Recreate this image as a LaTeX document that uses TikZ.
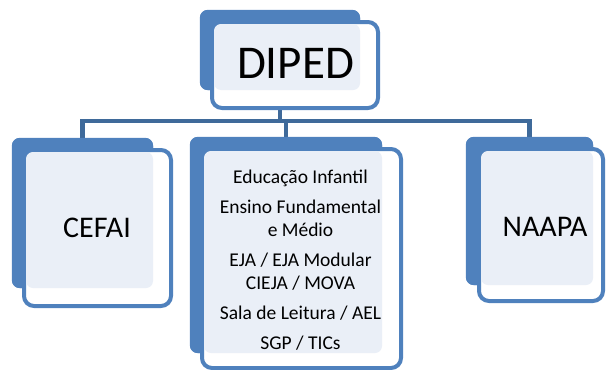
\documentclass[tikz,border=0pt]{standalone}
\usepackage{fontspec}
\setmainfont{Carlito}
\definecolor{boxblue}{HTML}{4F81BD}
\definecolor{lightfill}{HTML}{EAEFF7}
\definecolor{connblue}{HTML}{3F6A9A}
\tikzset{
  backbox/.style={draw=none, fill=boxblue, rounded corners=8pt, inner sep=0pt},
  framebox/.style={draw=boxblue, line width=4pt, fill=white, rounded corners=10pt, inner sep=0pt},
  lightbox/.style={draw=none, fill=lightfill, rounded corners=7pt, inner sep=0pt},
  conn/.style={draw=connblue, line width=4.5pt},
  lbl/.style={inner sep=0pt, text=black},
}
\begin{document}
\begin{tikzpicture}[x=1pt, y=-1pt]
\useasboundingbox (0,0) rectangle (606,370);
% nodes: back boxes
\node[backbox, minimum width=160pt, minimum height=80pt] (dipedb) at (280,50) {};
\node[backbox, minimum width=141pt, minimum height=150pt] (cefaib) at (82.5,213) {};
\node[backbox, minimum width=192pt, minimum height=216pt] (midb) at (286,245) {};
\node[backbox, minimum width=127pt, minimum height=148pt] (naapab) at (529.5,211) {};
% connectors
\coordinate (bus) at (0,121);
\draw[conn] (dipedb.south) -- (dipedb.south |- bus) -| (cefaib.north);
\draw[conn] (dipedb.south) -- (dipedb.south |- bus) -| (midb.north);
\draw[conn] (dipedb.south) -- (dipedb.south |- bus) -| (naapab.north);
% redraw back boxes on top of connectors
\fill[boxblue, rounded corners=8pt] (dipedb.south west) rectangle (dipedb.north east);
\fill[boxblue, rounded corners=8pt] (cefaib.south west) rectangle (cefaib.north east);
\fill[boxblue, rounded corners=8pt] (midb.south west) rectangle (midb.north east);
\fill[boxblue, rounded corners=8pt] (naapab.south west) rectangle (naapab.north east);
% frame boxes
\node[framebox, minimum width=166pt, minimum height=86pt] (dipedf) at (295,65) {};
\node[framebox, minimum width=147pt, minimum height=156pt] (cefaif) at (97.5,228) {};
\node[framebox, minimum width=199pt, minimum height=219pt] (midf) at (301.5,258.5) {};
\node[framebox, minimum width=124pt, minimum height=152pt] (naapaf) at (541,225) {};
% light boxes
\node[lightbox, minimum width=146pt, minimum height=66pt] (dipedl) at (287,57) {};
\node[lightbox, minimum width=127pt, minimum height=136pt] (cefail) at (89.5,220) {};
\node[lightbox, minimum width=178pt, minimum height=202pt] (midl) at (293,252) {};
\node[lightbox, minimum width=112pt, minimum height=134pt] (naapal) at (537,218) {};
% labels
\node[lbl, font=\fontsize{47}{52}\selectfont] (diped) at (295.5,63) {DIPED};
\node[lbl, font=\fontsize{30}{36}\selectfont] (cefai) at (97,228) {CEFAI};
\node[lbl, font=\fontsize{30}{36}\selectfont] (naapa) at (545,227) {NAAPA};
\node[lbl, font=\fontsize{19.5}{23}\selectfont, align=center] (mid) at (300.5,260)
  {Educação Infantil\\[7pt]
   Ensino Fundamental\\
   e Médio\\[7pt]
   EJA / EJA Modular\\
   CIEJA / MOVA\\[7pt]
   Sala de Leitura / AEL\\[7pt]
   SGP / TICs};
\end{tikzpicture}
\end{document}
